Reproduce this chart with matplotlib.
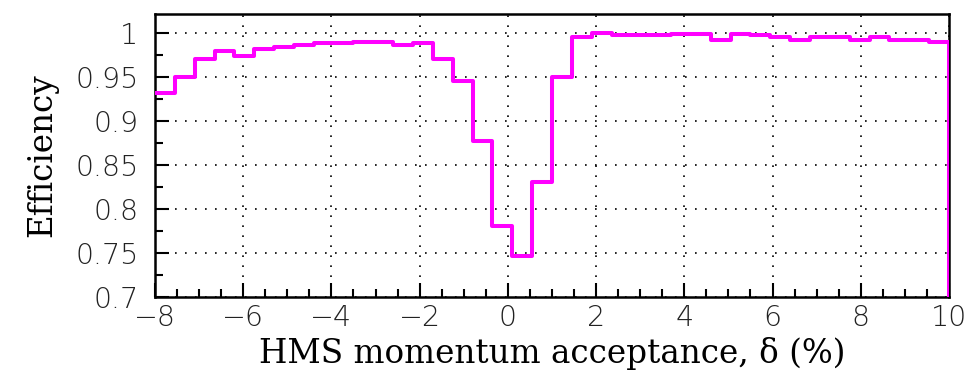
import numpy as np
import matplotlib.pyplot as plt
from matplotlib.ticker import MultipleLocator, FormatStrFormatter

# HMS delta bins: 40 bins from -8 to 10
bin_edges = np.linspace(-8, 10, 41)
efficiency = [0.932, 0.950, 0.970, 0.979, 0.974, 0.982, 0.984, 0.986, 0.988, 0.988,
              0.990, 0.990, 0.986, 0.988, 0.970, 0.945, 0.877, 0.780, 0.746, 0.830,
              0.950, 0.995, 1.000, 0.997, 0.997, 0.997, 0.999, 0.999, 0.992, 0.999,
              0.997, 0.995, 0.992, 0.995, 0.995, 0.992, 0.995, 0.992, 0.992, 0.989]

fig = plt.figure(figsize=(9.71, 3.79), dpi=100)
ax = fig.add_axes([0.1596, 0.2172, 0.8177, 0.7451])

# histogram outline, drops to zero after the last bin like ROOT
x = np.append(bin_edges, bin_edges[-1])
y = np.concatenate([efficiency, [efficiency[-1], 0.0]])
ax.step(x, y, where="post", color="#ff00ff", lw=2.9, zorder=3)

ax.set_xlim(-8, 10)
ax.set_ylim(0.7, 1.021)

ax.xaxis.set_major_locator(MultipleLocator(2))
ax.xaxis.set_minor_locator(MultipleLocator(0.5))
ax.yaxis.set_major_locator(MultipleLocator(0.05))
ax.yaxis.set_minor_locator(MultipleLocator(0.025))
ax.yaxis.set_major_formatter(FormatStrFormatter("%g"))

ax.tick_params(which="both", direction="in", top=False, right=False, width=1.5)
ax.tick_params(which="major", length=10)
ax.tick_params(which="minor", length=5.5)
ax.tick_params(axis="y", which="major", pad=12)
ax.tick_params(axis="x", which="major", pad=5)
for lab in ax.get_xticklabels() + ax.get_yticklabels():
    lab.set_family("DejaVu Sans")
    lab.set_fontweight("light")
    lab.set_fontsize(20.5)
    lab.set_color("#222222")

ax.grid(True, which="major", color="black", linestyle=(0, (1, 5)), lw=1.2)
for s in ax.spines.values():
    s.set_linewidth(1.8)

ax.set_xlabel("HMS momentum acceptance, δ (%)", family="DejaVu Serif", fontsize=23.5, labelpad=4)
ax.set_ylabel("Efficiency", family="DejaVu Serif", fontsize=23.5, labelpad=12)

fig.savefig("out.png", dpi=100)
